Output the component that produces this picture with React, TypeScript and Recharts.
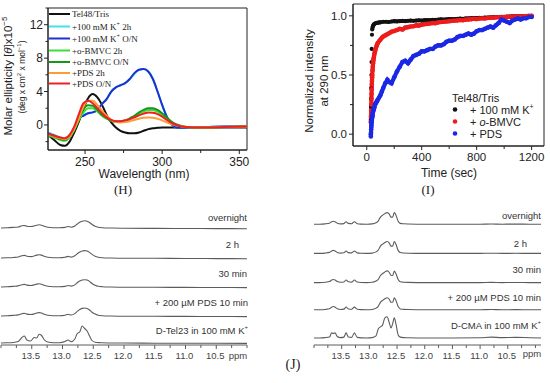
import React from 'react';
import { LineChart, Line, XAxis, YAxis, ReferenceArea, ComposedChart, Scatter } from 'recharts';

const SANS = "'Liberation Sans', Arial, Helvetica, sans-serif";
const SERIF = "'Liberation Serif', 'Times New Roman', serif";

// ---------------- Panel H: CD spectra ----------------
const WAVELENGTH = [226, 230, 234, 237, 240, 243, 246, 249, 252, 255, 258, 261, 264, 267, 270, 273, 276, 279, 282, 285, 288, 291, 294, 297, 300, 303, 306, 309, 312, 316, 320, 330, 340, 355];
const CD_TRIS = [-1.2, -1.8, -2.4, -2.5, -2.0, -0.9, 0.4, 1.9, 3.2, 3.7, 3.3, 2.4, 1.2, 0.3, -0.3, -0.7, -0.9, -1.0, -1.0, -0.9, -0.7, -0.5, -0.4, -0.35, -0.3, -0.3, -0.3, -0.3, -0.3, -0.3, -0.3, -0.3, -0.3, -0.3];
const CD_K_2H = [-0.9, -1.2, -1.5, -1.6, -1.2, -0.3, 0.8, 1.2, 1.4, 1.5, 1.8, 2.5, 3.1, 4.0, 4.5, 4.75, 5.0, 5.5, 6.1, 6.6, 6.7, 6.4, 5.5, 4.0, 2.4, 1.0, 0.1, -0.3, -0.35, -0.3, -0.3, -0.25, -0.2, -0.2];
const CD_K_ON = [-1.0, -1.3, -1.6, -1.7, -1.3, -0.4, 0.8, 1.1, 1.4, 1.5, 1.8, 2.5, 3.1, 4.0, 4.5, 4.75, 5.0, 5.5, 6.2, 6.6, 6.7, 6.4, 5.5, 4.0, 2.4, 1.0, 0.1, -0.3, -0.35, -0.3, -0.3, -0.25, -0.2, -0.2];
const CD_BMVC_2H = [-1.3, -1.5, -1.8, -1.9, -1.5, -0.6, 0.6, 1.5, 2.0, 2.0, 1.6, 1.1, 0.75, 0.5, 0.4, 0.4, 0.5, 0.7, 1.0, 1.3, 1.6, 1.8, 1.8, 1.6, 1.2, 0.7, 0.3, 0.0, -0.15, -0.25, -0.3, -0.3, -0.25, -0.2];
const CD_BMVC_ON = [-1.2, -1.4, -1.7, -1.8, -1.4, -0.5, 0.8, 1.9, 2.35, 2.3, 1.8, 1.2, 0.8, 0.5, 0.4, 0.4, 0.5, 0.8, 1.1, 1.5, 1.8, 2.0, 2.0, 1.8, 1.4, 0.9, 0.4, 0.1, -0.1, -0.25, -0.3, -0.3, -0.25, -0.2];
const CD_PDS_2H = [-1.1, -1.4, -1.6, -1.7, -1.4, -0.5, 0.8, 2.2, 2.9, 2.9, 2.4, 1.7, 1.1, 0.6, 0.35, 0.3, 0.35, 0.45, 0.6, 0.75, 0.85, 0.9, 0.85, 0.75, 0.55, 0.3, 0.1, -0.05, -0.15, -0.25, -0.3, -0.3, -0.25, -0.2];
const CD_PDS_ON = [-1.0, -1.3, -1.5, -1.6, -1.2, -0.2, 1.3, 2.6, 2.9, 2.6, 2.0, 1.4, 0.9, 0.6, 0.45, 0.45, 0.55, 0.7, 0.9, 1.15, 1.35, 1.5, 1.45, 1.3, 1.0, 0.6, 0.25, 0.0, -0.15, -0.25, -0.3, -0.3, -0.25, -0.2];
const CD_TICKS_X = [250, 275, 300, 325, 350];
const CD_MAJOR_X = [250, 300, 350];
const CD_TICKS_Y = [-2, 0, 2, 4, 6, 8, 10, 12, 14];
const CD_MAJOR_Y = [0, 4, 8, 12];

// legend label parts: strings, or {sup}
type Part = string | { sup: string };
const CD_SERIES: { key: string; label: Part[]; values: number[]; color: string }[] = [
  { key: 'tris', label: ['Tel48/Tris'], values: CD_TRIS, color: '#111111' },
  { key: 'k2h', label: ['+100 mM K', { sup: '+' }, ' 2h'], values: CD_K_2H, color: '#3fe3ea' },
  { key: 'kon', label: ['+100 mM K', { sup: '+' }, ' O/N'], values: CD_K_ON, color: '#1c30d4' },
  { key: 'b2h', label: ['+o-BMVC 2h'], values: CD_BMVC_2H, color: '#38e038' },
  { key: 'bon', label: ['+o-BMVC O/N'], values: CD_BMVC_ON, color: '#17961c' },
  { key: 'p2h', label: ['+PDS 2h'], values: CD_PDS_2H, color: '#ff9a3a' },
  { key: 'pon', label: ['+PDS O/N'], values: CD_PDS_ON, color: '#ee2020' },
];

// ---------------- Panel I: kinetics ----------------
const BLACK_T = [29, 30, 31, 32, 33, 34, 35, 36, 38, 40, 43, 46, 50, 55, 60, 70, 80, 90, 100, 120, 140, 160, 180, 200, 220, 240, 260, 280, 300, 320, 340, 360, 380, 400, 420, 440, 460, 480, 500, 520, 540, 560, 580, 600, 620, 640, 660, 680, 700, 720, 740, 760, 780, 800, 820, 840, 860, 880, 900, 920, 940, 960, 980, 1000, 1020, 1040, 1060, 1080, 1100, 1120, 1140, 1160, 1180, 1200];
const BLACK_V = [0.0, 0.12, 0.23, 0.3, 0.39, 0.5, 0.61, 0.72, 0.84, 0.885, 0.905, 0.915, 0.925, 0.93, 0.935, 0.94, 0.94, 0.945, 0.945,
  0.95, 0.95, 0.948, 0.952, 0.955, 0.953, 0.955, 0.957, 0.955, 0.958,
  0.96, 0.958, 0.96, 0.962, 0.96, 0.963, 0.965, 0.963, 0.966, 0.967,
  0.968, 0.97, 0.968, 0.971, 0.972, 0.973, 0.972, 0.975, 0.976, 0.975,
  0.978, 0.979, 0.98, 0.981, 0.98, 0.983, 0.984, 0.985, 0.985, 0.987,
  0.988, 0.99, 0.99, 0.991, 0.992, 0.993, 0.994, 0.995, 0.995, 0.996,
  0.997, 0.998, 0.998, 0.999, 1.0];
const KIN_T = [30, 31, 32, 33, 34, 35, 36, 37, 38, 39, 40, 42, 44, 46, 48, 50, 53, 56, 60, 65, 70, 75, 80, 90, 100, 110, 120, 135, 150, 165, 180, 200,
  220, 240, 260, 280, 300, 320, 340, 360, 380, 400, 420, 440, 460, 480, 500, 520, 540, 560, 580, 600, 620, 640, 660, 680, 700, 720, 740, 760, 780, 800, 820, 840, 860, 880, 900, 920, 940, 960, 980, 1000, 1020, 1040, 1060, 1080, 1100, 1120, 1140, 1160, 1180, 1200];
const RED_V = [0.10, 0.15, 0.20, 0.25, 0.30, 0.34, 0.38, 0.42, 0.45, 0.48, 0.50, 0.54, 0.57, 0.60, 0.62, 0.64, 0.66, 0.68, 0.70, 0.72, 0.74, 0.755, 0.77, 0.785, 0.80, 0.815, 0.825, 0.835, 0.845, 0.855, 0.865, 0.872,
  0.88, 0.89, 0.885, 0.9, 0.905, 0.91, 0.912, 0.92, 0.918, 0.925,
  0.93, 0.932, 0.935, 0.94, 0.938, 0.945, 0.948, 0.95, 0.952, 0.955,
  0.958, 0.96, 0.962, 0.965, 0.963, 0.968, 0.97, 0.972, 0.975, 0.973,
  0.977, 0.98, 0.978, 0.982, 0.985, 0.984, 0.987, 0.988, 0.99, 0.989,
  0.99, 0.992, 0.993, 0.994, 0.995, 0.996, 0.997, 0.998, 0.999, 1.0];
const BLUE_V = [-0.02, 0.01, 0.04, 0.06, 0.08, 0.10, 0.11, 0.12, 0.13, 0.14, 0.15, 0.16, 0.18, 0.19, 0.20, 0.21, 0.22, 0.23, 0.25, 0.26, 0.27, 0.28, 0.29, 0.31, 0.33, 0.36, 0.39, 0.43, 0.46, 0.44, 0.43, 0.48,
  0.53, 0.57, 0.61, 0.62, 0.60, 0.63, 0.66, 0.67, 0.68, 0.70,
  0.70, 0.71, 0.72, 0.72, 0.74, 0.75, 0.75, 0.76, 0.78, 0.79,
  0.79, 0.80, 0.82, 0.83, 0.83, 0.84, 0.85, 0.84, 0.85, 0.87,
  0.88, 0.88, 0.89, 0.90, 0.91, 0.90, 0.92, 0.94, 0.97, 0.96,
  0.95, 0.94, 0.96, 0.97, 0.98, 0.97, 0.98, 0.98, 0.99, 0.99];
const KIN_TICKS_X = [0, 200, 400, 600, 800, 1000, 1200];
const KIN_MAJOR_X = [0, 400, 800, 1200];
const KIN_TICKS_Y = [0, 0.25, 0.5, 0.75, 1.0];
const KIN_MAJOR_Y = [0, 0.5, 1.0];
const KIN_LEGEND: { label: Part[]; color: string; italicO?: boolean }[] = [
  { label: ['+ 100 mM K', { sup: '+' }], color: '#111111' },
  { label: ['+ '], color: '#ee1c1c', italicO: true },
  { label: ['+ PDS'], color: '#1a28e6' },
];

// ---------------- Panel J: NMR ----------------
const PPM_L = [14.0, 13.9, 13.8, 13.72, 13.66, 13.62, 13.58, 13.52, 13.46, 13.42, 13.38, 13.34, 13.3, 13.24, 13.15, 13.05, 12.96, 12.91, 12.86, 12.8, 12.76, 12.72, 12.68, 12.64, 12.6, 12.56, 12.52, 12.47, 12.42, 12.35, 12.2, 12.0, 11.5, 11.0, 10.5, 10.0];
const TEL23_ON = [0, 0.3, 0.6, 1.0, 2.2, 2.5, 1.8, 1.5, 2.0, 2.8, 3.2, 2.8, 1.8, 0.8, 0.3, 0.2, 0.6, 1.5, 0.8, 2.0, 4.0, 5.8, 6.8, 7.2, 6.8, 5.5, 3.5, 1.8, 0.8, 0.3, 0, -0.2, -0.4, -0.5, -0.6, -0.7];
const TEL23_2H = [0, 0.2, 0.5, 1.0, 2.3, 2.6, 1.8, 1.4, 2.0, 2.9, 3.3, 2.9, 1.8, 0.8, 0.3, 0.2, 0.7, 1.6, 0.9, 2.2, 4.3, 6.0, 7.0, 7.4, 7.0, 5.6, 3.6, 1.8, 0.8, 0.3, 0, -0.2, -0.3, -0.5, -0.6, -0.7];
const TEL23_30M = [0, 0.3, 0.6, 1.1, 2.2, 2.6, 1.9, 1.5, 2.1, 2.9, 3.2, 2.8, 1.7, 0.8, 0.3, 0.2, 0.6, 1.5, 0.9, 2.1, 4.2, 6.0, 7.0, 7.3, 6.9, 5.6, 3.5, 1.7, 0.7, 0.3, 0, -0.2, -0.3, -0.4, -0.5, -0.6];
const TEL23_PDS = [0, 0.3, 0.6, 1.1, 2.3, 2.7, 1.9, 1.5, 2.1, 3.0, 3.4, 3.0, 1.8, 0.8, 0.3, 0.2, 0.7, 1.7, 1.0, 2.4, 4.6, 6.5, 7.6, 8.0, 7.6, 6.0, 3.8, 1.9, 0.8, 0.3, 0, -0.2, -0.3, -0.4, -0.5, -0.6];
const TEL23_K = [0, 0.2, 0.5, 1.5, 5.5, 7.0, 3.0, 2.0, 5.5, 5.0, 8.8, 7.5, 3.5, 1.0, 0.3, 0.3, 1.5, 3.0, 1.2, 4.0, 9.5, 11.0, 17.0, 14.5, 12.0, 7.0, 2.5, 0.8, 0.4, 0.2, 0, 0, -0.2, -0.3, -0.3, -0.4];
const PPM_R = [14.0, 13.9, 13.8, 13.72, 13.68, 13.65, 13.62, 13.58, 13.52, 13.46, 13.42, 13.38, 13.32, 13.27, 13.22, 13.15, 13.05, 12.95, 12.88, 12.84, 12.8, 12.76, 12.72, 12.68, 12.64, 12.61, 12.58, 12.55, 12.52, 12.48, 12.44, 12.38, 12.3, 12.0, 11.5, 11.0, 10.8, 10.6, 10.35, 10.1, 9.9];
const CMA_ON = [0, 0, 0.3, 1.0, 2.5, 3.0, 2.5, 1.0, 0.3, 0.6, 2.5, 0.8, 0.5, 2.5, 0.5, 0.1, 0, 0.3, 1.5, 3.0, 7.0, 9.0, 10.5, 11.5, 10.0, 7.0, 7.0, 11.5, 9.0, 3.0, 0.8, 0.4, 0.2, 0, 0, 0, 0.2, 0, 0.1, 0, 0];
const CMA_2H = [0, 0, 0.3, 1.0, 2.4, 3.0, 2.4, 1.0, 0.3, 0.6, 2.4, 0.8, 0.5, 2.4, 0.5, 0.1, 0, 0.3, 1.5, 3.2, 7.2, 9.2, 10.8, 11.8, 10.2, 7.2, 7.2, 11.8, 9.0, 3.0, 0.8, 0.4, 0.2, 0, 0, 0, 0.2, 0, 0.1, 0, 0];
const CMA_30M = [0, 0, 0.3, 1.0, 2.6, 3.1, 2.6, 1.0, 0.3, 0.6, 2.5, 0.8, 0.5, 2.6, 0.5, 0.1, 0, 0.3, 1.6, 3.2, 7.0, 9.0, 10.6, 11.6, 10.0, 7.2, 7.0, 11.4, 8.8, 3.0, 0.8, 0.4, 0.2, 0, 0, 0, 0.2, 0, 0.1, 0, 0];
const CMA_PDS = [0, 0, 0.3, 1.0, 2.6, 3.2, 2.6, 1.0, 0.3, 0.6, 2.7, 0.8, 0.5, 2.6, 0.5, 0.1, 0, 0.3, 1.6, 3.4, 7.4, 9.4, 11.0, 12.0, 10.4, 7.4, 7.4, 11.8, 9.2, 3.2, 0.8, 0.4, 0.2, 0, 0, 0, 0.2, 0, 0.1, 0, 0];
const CMA_K = [0, 0, 0.3, 1.0, 5.0, 4.5, 5.0, 1.5, 0.3, 0.8, 5.0, 1.0, 0.6, 5.0, 0.6, 0.1, 0, 0.3, 2.0, 9.0, 11.0, 13.0, 20.0, 21.0, 15.0, 10.0, 14.0, 20.0, 14.0, 3.0, 0.8, 0.3, 0.2, 0, 0, 0.2, 0.8, 0.3, 0.6, 0.2, 0];
const NMR_TICKS = [14.0, 13.75, 13.5, 13.25, 13.0, 12.75, 12.5, 12.25, 12.0, 11.75, 11.5, 11.25, 11.0, 10.75, 10.5, 10.25, 10.0];
const NMR_MAJOR = [13.5, 13.0, 12.5, 12.0, 11.5, 11.0, 10.5];
const TEL23_LABELS: Part[][] = [['overnight'], ['2 h'], ['30 min'], ['+ 200 \u00b5M PDS 10 min'], ['D-Tel23 in 100 mM K', { sup: '+' }]];
const CMA_LABELS: Part[][] = [['overnight'], ['2 h'], ['30 min'], ['+ 200 \u00b5M PDS 10 min'], ['D-CMA in 100 mM K', { sup: '+' }]];

// ---------------- style / layout constants ----------------
const TEL23_TRACES = [TEL23_ON, TEL23_2H, TEL23_30M, TEL23_PDS, TEL23_K];
const CMA_TRACES = [CMA_ON, CMA_2H, CMA_30M, CMA_PDS, CMA_K];
const TEL23_OFFSETS = [117, 87, 58, 29, 2];
const CMA_OFFSETS = [120, 91, 62, 35, 7];
const TEL23_LABEL_POS = [[247, 217], [239, 244], [247, 273], [248, 302], [248, 330]];
const CMA_LABEL_POS = [[541, 215], [527, 243], [541, 269], [541, 297], [541, 325]];
const LEG_H_Y = [14, 26.5, 38.5, 50.5, 62, 73, 83.5];
const NMR_GRAY = '#5c5c5c';
const C_BLACK = '#111111';
const C_RED = '#ee1c1c';
const C_BLUE = '#1a28e6';

const isMajor = (list: number[], v: number) => list.some((m) => Math.abs(m - v) < 1e-6);

type TickCfg = {
  majors: number[]; majorLen: number; minorLen: number; labelOff: number;
  fontSize: number; color: string; textColor: string; fmt: (v: number) => string; dx?: number;
};

const bottomTick = (c: TickCfg) => (props: any) => {
  const { x, y, payload } = props;
  const v = payload.value;
  const mj = isMajor(c.majors, v);
  const len = mj ? c.majorLen : c.minorLen;
  return (
    <g>
      <line x1={x} x2={x} y1={y} y2={y + len} stroke={c.color} strokeWidth={1} />
      {mj ? (
        <text x={x + (c.dx || 0)} y={y + c.labelOff} textAnchor="middle" dominantBaseline="central"
          fontSize={c.fontSize} fill={c.textColor} fontFamily={SANS}>{c.fmt(v)}</text>
      ) : null}
    </g>
  );
};

const leftTick = (c: TickCfg) => (props: any) => {
  const { x, y, payload } = props;
  const v = payload.value;
  const mj = isMajor(c.majors, v);
  const len = mj ? c.majorLen : c.minorLen;
  return (
    <g>
      <line x1={x} x2={x - len} y1={y} y2={y} stroke={c.color} strokeWidth={1} />
      {mj ? (
        <text x={x - c.labelOff} y={y} textAnchor="end" dominantBaseline="central"
          fontSize={c.fontSize} fill={c.textColor} fontFamily={SANS}>{c.fmt(v)}</text>
      ) : null}
    </g>
  );
};

const Rich = ({ parts, supSize, supDy }: { parts: Part[]; supSize: number; supDy: number }) => (
  <>
    {parts.map((p, i) =>
      typeof p === 'string' ? (
        <tspan key={i} dy={i > 0 && typeof parts[i - 1] !== 'string' ? supDy : 0}>{p}</tspan>
      ) : (
        <tspan key={i} dy={-supDy} fontSize={supSize}>{p.sup}</tspan>
      )
    )}
  </>
);

const cdRows = WAVELENGTH.map((nm, i) => {
  const row: any = { nm };
  CD_SERIES.forEach((s) => { row[s.key] = s.values[i]; });
  return row;
});
const blackPts = BLACK_T.map((t, i) => ({ t, v: BLACK_V[i] }));
const blackPlateau = blackPts.filter((p) => p.t >= 40);
const redPts = KIN_T.map((t, i) => ({ t, v: RED_V[i] }));
const bluePts = KIN_T.map((t, i) => ({ t, v: BLUE_V[i] }));
const tel23Rows = TEL23_TRACES.map((tr) => PPM_L.map((ppm, i) => ({ ppm, v: tr[i] })));
const cmaRows = CMA_TRACES.map((tr) => PPM_R.map((ppm, i) => ({ ppm, v: tr[i] })));

const dot = (color: string, r: number) => (p: any) => <circle cx={p.cx} cy={p.cy} r={r} fill={color} />;

const NmrChart = ({ rows, offsets, domain, width, ml, mr, mt }: any) => (
  <LineChart width={width} height={175} margin={{ top: mt, right: mr, bottom: 0, left: ml }}>
    <XAxis dataKey="ppm" type="number" domain={domain} reversed allowDataOverflow ticks={NMR_TICKS} interval={0}
      height={20} tickSize={0} tickMargin={0} tickLine={false} axisLine={{ stroke: NMR_GRAY }}
      tick={bottomTick({ majors: NMR_MAJOR, majorLen: 4, minorLen: 3, labelOff: 10, fontSize: 9.5, color: NMR_GRAY, textColor: '#444', fmt: (v) => v.toFixed(1), dx: -1 })} />
    <YAxis hide type="number" domain={[0, 150]} allowDataOverflow />
    {rows.map((r: any, k: number) => (
      <Line key={k} data={r} dataKey={(d: any) => d.v + offsets[k]} type="monotone" stroke={NMR_GRAY}
        strokeWidth={1.1} dot={false} isAnimationActive={false} />
    ))}
  </LineChart>
);

export default function App() {
  return (
    <div style={{ position: 'absolute', left: 0, top: 0, width: 550, height: 383, background: '#fff', overflow: 'hidden', fontFamily: SANS }}>
      {/* Panel H */}
      <div style={{ position: 'absolute', left: 0, top: 0 }}>
        <LineChart width={252} height={190} data={cdRows} margin={{ top: 8, right: 5, bottom: 0, left: 0 }}>
          <XAxis dataKey="nm" type="number" domain={[226, 355]} allowDataOverflow ticks={CD_TICKS_X} interval={0}
            height={40} tickSize={0} tickMargin={0} tickLine={false} axisLine={{ stroke: '#222' }}
            tick={bottomTick({ majors: CD_MAJOR_X, majorLen: 4, minorLen: 3, labelOff: 11.5, fontSize: 12, color: '#222', textColor: '#222', fmt: (v) => String(v) })} />
          <YAxis type="number" domain={[-3, 14]} allowDataOverflow ticks={CD_TICKS_Y} interval={0} width={48}
            tickSize={0} tickMargin={0} tickLine={false} axisLine={{ stroke: '#222' }}
            tick={leftTick({ majors: CD_MAJOR_Y, majorLen: 4, minorLen: 2.5, labelOff: 5, fontSize: 12, color: '#222', textColor: '#222', fmt: (v) => String(v) })} />
          <ReferenceArea x1={226} x2={355} y1={-3} y2={14} fill="none" stroke="#222" strokeWidth={1} />
          {CD_SERIES.map((s) => (
            <Line key={s.key} dataKey={s.key} type="monotone" stroke={s.color} strokeWidth={2} dot={false} isAnimationActive={false} />
          ))}
        </LineChart>
      </div>

      {/* Panel I */}
      <div style={{ position: 'absolute', left: 300, top: 0 }}>
        <ComposedChart width={250} height={190} margin={{ top: 4, right: 6, bottom: 0, left: 0 }}>
          <XAxis dataKey="t" type="number" domain={[-100, 1290]} allowDataOverflow ticks={KIN_TICKS_X} interval={0}
            height={44} tickSize={0} tickMargin={0} tickLine={false} axisLine={{ stroke: '#222' }}
            tick={bottomTick({ majors: KIN_MAJOR_X, majorLen: 4, minorLen: 3, labelOff: 11, fontSize: 11.5, color: '#222', textColor: '#222', fmt: (v) => String(v) })} />
          <YAxis dataKey="v" type="number" domain={[-0.1, 1.1]} allowDataOverflow ticks={KIN_TICKS_Y} interval={0} width={53}
            tickSize={0} tickMargin={0} tickLine={false} axisLine={{ stroke: '#222' }}
            tick={leftTick({ majors: KIN_MAJOR_Y, majorLen: 4, minorLen: 3, labelOff: 6, fontSize: 11.5, color: '#222', textColor: '#222', fmt: (v) => v.toFixed(1) })} />
          <ReferenceArea x1={-100} x2={1290} y1={-0.1} y2={1.1} fill="none" stroke="#222" strokeWidth={1} />
          <Line data={blackPlateau} dataKey="v" type="linear" stroke={C_BLACK} strokeWidth={3.6} dot={false} isAnimationActive={false} />
          <Scatter data={blackPts} shape={dot(C_BLACK, 2.1)} isAnimationActive={false} />
          <Line data={redPts} dataKey="v" type="linear" stroke={C_RED} strokeWidth={4.2} dot={false} isAnimationActive={false} />
          <Scatter data={redPts} shape={dot(C_RED, 2.3)} isAnimationActive={false} />
          <Line data={bluePts} dataKey="v" type="linear" stroke={C_BLUE} strokeWidth={4.2} dot={false} isAnimationActive={false} />
          <Scatter data={bluePts} shape={dot(C_BLUE, 2.3)} isAnimationActive={false} />
        </ComposedChart>
      </div>

      {/* Panel J left */}
      <div style={{ position: 'absolute', left: 0, top: 190 }}>
        <NmrChart rows={tel23Rows} offsets={TEL23_OFFSETS} domain={[10.0, 14.0]} width={250} ml={1} mr={3} mt={5} />
      </div>
      {/* Panel J right */}
      <div style={{ position: 'absolute', left: 300, top: 190 }}>
        <NmrChart rows={cmaRows} offsets={CMA_OFFSETS} domain={[9.9, 14.0]} width={245} ml={14} mr={4} mt={4} />
      </div>

      {/* Text overlay */}
      <svg width={550} height={383} style={{ position: 'absolute', left: 0, top: 0, pointerEvents: 'none' }}>
        {/* H legend */}
        {CD_SERIES.map((s, i) => (
          <g key={s.key}>
            <line x1={49} x2={70} y1={LEG_H_Y[i]} y2={LEG_H_Y[i]} stroke={s.color} strokeWidth={2} />
            <text x={72} y={LEG_H_Y[i]} dominantBaseline="central" fontFamily={SERIF} fontSize={9} fill="#222">
              <Rich parts={s.label} supSize={6} supDy={3} />
            </text>
          </g>
        ))}
        <text transform="translate(8,76) rotate(-90)" textAnchor="middle" dominantBaseline="central" fontSize={11.5} fontFamily={SANS} fill="#222">
          Molar ellipticity [<tspan fontStyle="italic">{'\u03b8'}</tspan>]x10<tspan dy={-4} fontSize={8}>{'\u22125'}</tspan>
        </text>
        <text transform="translate(22,77) rotate(-90)" textAnchor="middle" dominantBaseline="central" fontSize={8.5} fontFamily={SANS} fill="#222">
          (deg x cm<tspan dy={-3} fontSize={6}>2</tspan><tspan dy={3}> x mol</tspan><tspan dy={-3} fontSize={6}>{'\u22121'}</tspan><tspan dy={3}>)</tspan>
        </text>
        <text x={144} y={174} textAnchor="middle" dominantBaseline="central" fontSize={12} fontFamily={SANS} fill="#222">Wavelength (nm)</text>
        <text x={123} y={189} textAnchor="middle" dominantBaseline="central" fontSize={13} fontFamily={SERIF} fill="#222">(H)</text>

        {/* I labels */}
        <text transform="translate(309,81) rotate(-90)" textAnchor="middle" dominantBaseline="central" fontSize={11.5} fontFamily={SANS} fill="#222">Normalized intensity</text>
        <text transform="translate(324,81) rotate(-90)" textAnchor="middle" dominantBaseline="central" fontSize={11.5} fontFamily={SANS} fill="#222">at 290 nm</text>
        <text x={449} y={173} textAnchor="middle" dominantBaseline="central" fontSize={12} fontFamily={SANS} fill="#222">Time (sec)</text>
        <text x={428} y={189} textAnchor="middle" dominantBaseline="central" fontSize={13} fontFamily={SERIF} fill="#222">(I)</text>
        <text x={452} y={98} dominantBaseline="central" fontSize={11} fontFamily={SANS} fill="#222">Tel48/Tris</text>
        {KIN_LEGEND.map((l, i) => (
          <g key={i}>
            <circle cx={455} cy={109.5 + i * 12} r={2.3} fill={l.color} />
            <text x={470} y={109.5 + i * 12} dominantBaseline="central" fontSize={11} fontFamily={SANS} fill="#222">
              {l.italicO ? (<><tspan>+ </tspan><tspan fontStyle="italic">o</tspan><tspan>-BMVC</tspan></>) : <Rich parts={l.label} supSize={7} supDy={4} />}
            </text>
          </g>
        ))}

        {/* J labels */}
        {TEL23_LABELS.map((p, i) => (
          <text key={'l' + i} x={TEL23_LABEL_POS[i][0]} y={TEL23_LABEL_POS[i][1]} textAnchor="end" dominantBaseline="central" fontSize={9.5} fontFamily={SANS} fill="#333">
            <Rich parts={p} supSize={6} supDy={3} />
          </text>
        ))}
        {CMA_LABELS.map((p, i) => (
          <text key={'r' + i} x={CMA_LABEL_POS[i][0]} y={CMA_LABEL_POS[i][1]} textAnchor="end" dominantBaseline="central" fontSize={9.5} fontFamily={SANS} fill="#333">
            <Rich parts={p} supSize={6} supDy={3} />
          </text>
        ))}
        <text x={238} y={355} textAnchor="middle" dominantBaseline="central" fontSize={9.5} fontFamily={SANS} fill="#444">ppm</text>
        <text x={532} y={353.5} textAnchor="middle" dominantBaseline="central" fontSize={9.5} fontFamily={SANS} fill="#444">ppm</text>
        <text x={293} y={364} textAnchor="middle" dominantBaseline="central" fontSize={14} fontFamily={SERIF} fill="#222">(J)</text>
      </svg>
    </div>
  );
}
